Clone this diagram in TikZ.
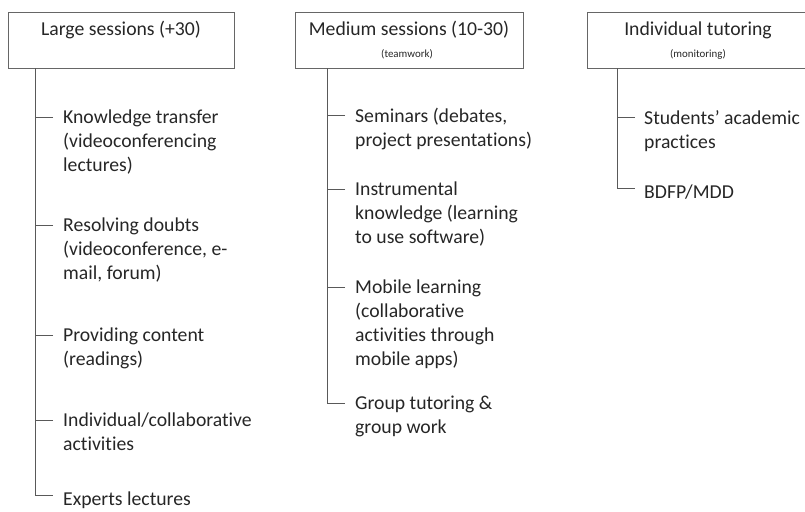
\documentclass[tikz,border=0pt]{standalone}
\usepackage{fontspec}
\setmainfont{Carlito}[Ligatures={TeX,NoCommon}]
\usepackage{tikz}
\usetikzlibrary{positioning}

\begin{document}
\begin{tikzpicture}[x=1pt,y=-1pt,
    sessbox/.style={draw=black!60,line width=1pt,minimum height=56pt,anchor=north west,inner sep=0pt},
    headtext/.style={font=\fontsize{19.7}{24}\selectfont,text=black!85,anchor=base,inner sep=0pt},
    subtext/.style={font=\fontsize{10.9}{13}\selectfont,text=black!85,anchor=base,inner sep=0pt},
    item/.style={font=\fontsize{19.7}{24}\selectfont,text=black!85,align=left,anchor=north west,
      inner sep=0pt,execute at begin node=\strut},
    branch/.style={draw=black!65,line width=1pt}]
    \clip (0,0) rectangle (805,511);

    % session boxes
    \node[sessbox,minimum width=226pt] (large) at (8,12) {};
    \node[sessbox,minimum width=228pt] (medium) at (295,12) {};
    \node[sessbox,minimum width=223pt] (indiv) at (587,12) {};
    \node[headtext] (largehead) at (121,36) {Large sessions (+30)};
    \node[headtext] (mediumhead) at (409,36) {Medium sessions (10-30)};
    \node[subtext] (mediumsub) at (407,58) {(teamwork)};
    \node[headtext] (indivhead) at (698,36) {Individual tutoring};
    \node[subtext] (indivsub) at (698,58) {(monitoring)};

    % large sessions
    \coordinate (largeroot) at (35,68);
    \node[item] (kt) at (63,110) {Knowledge transfer\\(videoconferencing\\lectures)};
    \node[item] (rd) at (63,218) {Resolving doubts\\(videoconference, e-\\mail, forum)};
    \node[item] (pc) at (63,328) {Providing content\\(readings)};
    \node[item] (ic) at (63,413) {Individual/collaborative\\activities};
    \node[item] (el) at (63,488) {Experts lectures};
    \foreach \itm in {kt,rd,pc,ic}
      \draw[branch] ([xshift=-10pt,yshift=-7pt]\itm.north west) -- ++(-18,0);
    \draw[branch] (largeroot) |- ([xshift=-10pt,yshift=-7pt]el.north west);

    % medium sessions
    \coordinate (mediumroot) at (327,68);
    \node[item] (sd) at (355,108) {Seminars (debates,\\project presentations)};
    \node[item] (ik) at (355,182) {Instrumental\\knowledge (learning\\to use software)};
    \node[item] (ml) at (355,280) {Mobile learning\\(collaborative\\activities through\\mobile apps)};
    \node[item] (gt) at (355,396) {Group tutoring \&\\group work};
    \foreach \itm in {sd,ik,ml}
      \draw[branch] ([xshift=-10pt,yshift=-7pt]\itm.north west) -- ++(-18,0);
    \draw[branch] (mediumroot) |- ([xshift=-10pt,yshift=-7pt]gt.north west);

    % individual tutoring
    \coordinate (indivroot) at (617,68);
    \node[item] (sp) at (644,110) {Students’ academic\\practices};
    \node[item] (bm) at (644,181) {BDFP/MDD};
    \draw[branch] ([xshift=-9pt,yshift=-7pt]sp.north west) -- ++(-18,0);
    \draw[branch] (indivroot) |- ([xshift=-9pt,yshift=-7pt]bm.north west);

  \end{tikzpicture}
\end{document}
